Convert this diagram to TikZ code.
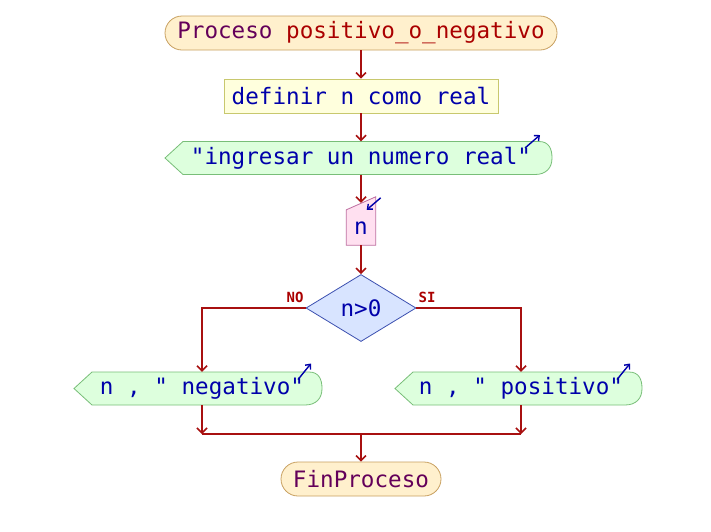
\documentclass[tikz,border=0pt]{standalone}
\usepackage{fontspec}
\setmonofont{DejaVu Sans Mono}
\usetikzlibrary{arrows.meta,calc,shapes.geometric,backgrounds}
\definecolor{termfill}{RGB}{255,240,205}
\definecolor{termdraw}{RGB}{200,160,96}
\definecolor{procfill}{RGB}{255,255,221}
\definecolor{procdraw}{RGB}{200,200,110}
\definecolor{outfill}{RGB}{221,255,221}
\definecolor{outdraw}{RGB}{120,190,120}
\definecolor{inpfill}{RGB}{255,224,240}
\definecolor{inpdraw}{RGB}{190,110,160}
\definecolor{decfill}{RGB}{216,228,255}
\definecolor{decdraw}{RGB}{60,80,176}
\definecolor{txtblue}{RGB}{0,0,170}
\definecolor{txtpurple}{RGB}{100,0,90}
\definecolor{txtred}{RGB}{170,0,0}
\definecolor{linered}{RGB}{168,16,16}
\newcommand{\outshp}[3]{%
  \filldraw[outsh] ($(#1)+(-#2,0)$) -- ($(#1)+(-#2+18,-16.5)$) -- ($(#1)+(#3-13,-16.5)$)
   .. controls ($(#1)+(#3-3,-16.5)$) and ($(#1)+(#3,-9)$) .. ($(#1)+(#3,0)$)
   .. controls ($(#1)+(#3,10)$) and ($(#1)+(#3-6,16.5)$) .. ($(#1)+(#3-17,16.5)$)
   -- ($(#1)+(-#2+18,16.5)$) -- cycle;}
\begin{document}
\begin{tikzpicture}[x=1pt,y=-1pt,
  txt/.style={font=\ttfamily\fontsize{22.6}{26}\selectfont, text=txtblue, inner sep=0pt},
  term/.style={txt, text=txtpurple, draw=termdraw, fill=termfill, rounded corners=17pt, minimum height=34pt, line width=0.8pt},
  procbox/.style={txt, draw=procdraw, fill=procfill, minimum height=34pt, line width=0.8pt},
  outnode/.style={txt, minimum height=33pt},
  outsh/.style={draw=outdraw, fill=outfill, line width=0.8pt},
  decnode/.style={txt, diamond, draw=decdraw, fill=decfill, minimum width=110pt, minimum height=67pt, line width=0.8pt},
  conn/.style={draw=linered, line width=1.5pt},
  arr/.style={conn, -{Straight Barb[length=5pt,width=10pt,line width=1.5pt]}},
  icon/.style={draw=txtblue, line width=1.4pt, -{Straight Barb[length=4pt,width=7pt,line width=1.4pt]}},
  lbl/.style={font=\ttfamily\bfseries\fontsize{14}{16}\selectfont, text=txtred, inner sep=0pt}
]
\useasboundingbox (0,0) rectangle (711,531);

\node[term, minimum width=392pt] (start) at (361,33) {Proceso \textcolor{txtred}{positivo\_o\_negativo}};
\node[procbox, minimum width=274pt] (proc) at (361,96) {definir n como real};
\node[outnode] (out1) at (361,158) {"ingresar un numero real"};
\node[minimum width=29pt, minimum height=48pt, inner sep=0pt] (inp) at (361,221) {};
\node[txt] (inpt) at (361,228) {n};
\node[decnode] (dec) at (361,308) {n>0};
\node[outnode] (out2) at (202,388.5) {n , " negativo"};
\node[outnode] (out3) at (521,388.5) {n , " positivo"};
\node[term, minimum width=160pt] (fin) at (361,479) {FinProceso};
\node[lbl] (no) at (295,297) {NO};
\node[lbl] (si) at (427,297) {SI};

\begin{scope}[on background layer]
\fill[white] (0,0) rectangle (711,531);
\outshp{out1}{196}{191}
\outshp{out2}{128}{120}
\outshp{out3}{126}{121}
\filldraw[fill=inpfill, draw=inpdraw, line width=0.8pt] ($(inp.north west)+(0,13)$) -- (inp.north east) -- (inp.south east) -- (inp.south west) -- cycle;
\end{scope}

\coordinate (inptop) at ($(inp.north)+(0,6)$);
\coordinate (bl) at (out2 |- dec.west);
\coordinate (br) at (out3 |- dec.east);
\coordinate (j2) at (202,434);
\coordinate (j3) at (521,434);
\coordinate (jm) at (361,434);

\draw[arr] (start.south) -- (proc.north);
\draw[arr] (proc.south) -- (out1.north);
\draw[arr] (out1.south) -- (inptop);
\draw[arr] (inp.south) -- (dec.north);
\draw[arr] (dec.west) -- (bl) -- (out2.north);
\draw[arr] (dec.east) -- (br) -- (out3.north);
\draw[arr] (out2.south) -- (j2);
\draw[arr] (out3.south) -- (j3);
\draw[conn] (j2) -- (j3);
\draw[arr] (jm) -- (fin.north);

\draw[icon] ($(out1)+(164,-10)$) -- ($(out1)+(179,-23)$);
\draw[icon] ($(out2)+(96,-9)$) -- ($(out2)+(109,-25)$);
\draw[icon] ($(out3)+(96,-9)$) -- ($(out3)+(109,-25)$);
\draw[icon] ($(inp.north east)+(5,1)$) -- ($(inp.north east)+(-9,13)$);
\end{tikzpicture}
\end{document}
